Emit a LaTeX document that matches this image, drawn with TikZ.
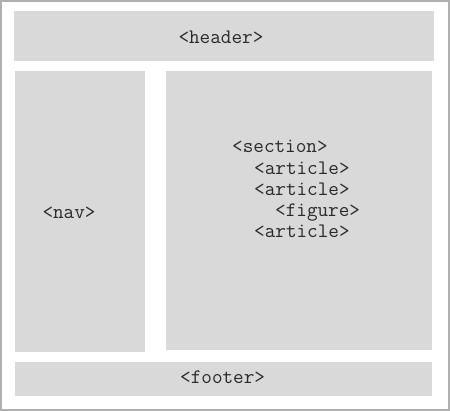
\documentclass[tikz,border=0pt]{standalone}
\usepackage{tikz}
\usetikzlibrary{positioning}
\definecolor{boxgray}{HTML}{D9D9D9}
\definecolor{framegray}{HTML}{B0B0B0}
\definecolor{taggray}{HTML}{2A2A2A}

\begin{document}
\begin{tikzpicture}[x=1pt, y=-1pt, font=\ttfamily\fontsize{20.6}{21.2}\selectfont,
    box/.style={fill=boxgray, inner sep=0pt, anchor=north west},
    tag/.style={anchor=base west, inner sep=0pt, text=taggray}]

    % 1. Page size and the grey outer frame
    \useasboundingbox (0,0) rectangle (450,411);
    \draw[framegray, line width=2pt] (1,1) rectangle (449,410);

    % 2. The four grey blocks of the layout
    \node[box, minimum width=419.7pt, minimum height=50pt] (header) at (14,11) {};
    \node[box, minimum width=129.7pt, minimum height=281pt] (nav) at (15,71) {};
    \node[box, minimum width=266pt, minimum height=279pt] (section) at (166,71) {};
    \node[box, minimum width=417pt, minimum height=34pt] (footer) at (15,362) {};

    % 3. Tags written in the header, nav and footer
    \node[tag] (headertag) at (178.3,43.6) {<header>};
    \node[tag] (navtag) at (42.3,219) {<nav>};
    \node[tag] (footertag) at (180,384) {<footer>};

    % 4. Nested tags inside the section block
    \foreach \nm/\xx/\yy/\tg in {sec/232/153/section, art1/254/174.2/article,
        art2/254/195.4/article, fig/275/216.6/figure, art3/254/237.8/article}
        \node[tag] (\nm) at (\xx,\yy) {<\tg>};
\end{tikzpicture}
\end{document}
